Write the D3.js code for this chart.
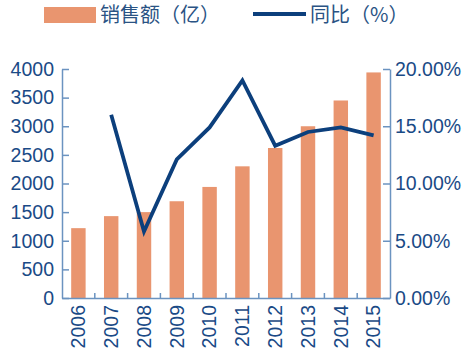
<!DOCTYPE html>
<html>
<head>
<meta charset="utf-8">
<script src="https://cdn.jsdelivr.net/npm/d3@7"></script>
<style>
    body { margin: 0; background: #fff; }
    text { font-family: "Liberation Sans", Arial, sans-serif; }
</style>
</head>
<body>
<div id="chart"></div>
<script>
const years = ['2006', '2007', '2008', '2009', '2010', '2011', '2012', '2013', '2014', '2015'];
const sales = [1220, 1430, 1500, 1690, 1940, 2300, 2620, 3000, 3450, 3940];
const growth = [null, 16.0, 5.8, 12.1, 14.9, 19.0, 13.3, 14.5, 14.9, 14.2];
const left_ticks = [0, 500, 1000, 1500, 2000, 2500, 3000, 3500, 4000];
const right_ticks = [0, 5, 10, 15, 20];

const width = 468;
const height = 358;
const margin = { left: 62, right: 78, top: 69, bottom: 60 };

const bar_color = '#e9956f';
const line_color = '#0c3f7c';
const axis_color = '#6b93c0';
const label_color = '#1a4a86';

const svg = d3.select('#chart')
    .append('svg')
    .attr('width', width)
    .attr('height', height);

const x = d3.scaleBand()
    .domain(years)
    .range([margin.left, width - margin.right])
    .paddingInner(0.56)
    .paddingOuter(0.28);

const y_left = d3.scaleLinear()
    .domain([0, 4000])
    .range([height - margin.bottom, margin.top]);

const y_right = d3.scaleLinear()
    .domain([0, 20])
    .range([height - margin.bottom, margin.top]);

// bars
svg.append('g')
    .selectAll('rect')
    .data(years)
    .enter()
    .append('rect')
    .attr('x', d => x(d))
    .attr('width', x.bandwidth())
    .attr('y', (d, i) => y_left(sales[i]))
    .attr('height', (d, i) => y_left(0) - y_left(sales[i]))
    .attr('fill', bar_color);

const style_axis = (g) => {
    g.select('.domain').attr('stroke', axis_color).attr('stroke-width', 1.5);
    g.selectAll('.tick line').attr('stroke', axis_color).attr('stroke-width', 1.5);
    g.selectAll('.tick text')
        .attr('fill', label_color)
        .style('font-size', '19.5px');
};

// left axis, ticks pointing inward
const left_axis = svg.append('g')
    .attr('transform', `translate(${margin.left}, 0)`)
    .call(d3.axisLeft(y_left).tickValues(left_ticks).tickSizeInner(-7).tickSizeOuter(0).tickPadding(8).tickFormat(d3.format('d')));
style_axis(left_axis);

// right axis
const right_axis = svg.append('g')
    .attr('transform', `translate(${width - margin.right}, 0)`)
    .call(d3.axisRight(y_right).tickValues(right_ticks).tickSizeInner(-7).tickSizeOuter(0).tickPadding(5).tickFormat(d => `${d.toFixed(2)}%`));
style_axis(right_axis);

// x axis with ticks at band boundaries
const x_axis = svg.append('g')
    .attr('transform', `translate(0, ${height - margin.bottom})`)
    .call(d3.axisBottom(x).tickSize(0).tickPadding(0));
x_axis.select('.domain').attr('stroke', axis_color).attr('stroke-width', 1.5);
x_axis.selectAll('.tick text')
    .attr('fill', label_color)
    .style('font-size', '19.5px')
    .attr('text-anchor', 'end')
    .attr('transform', 'rotate(-90)')
    .attr('x', -7)
    .attr('y', 0)
    .attr('dy', '0.35em');

const step = x.step();
x_axis.selectAll('.boundary')
    .data(years.slice(1))
    .enter()
    .append('line')
    .attr('class', 'boundary')
    .attr('x1', d => x(d) - step * x.paddingInner() / 2)
    .attr('x2', d => x(d) - step * x.paddingInner() / 2)
    .attr('y1', 0)
    .attr('y2', -5)
    .attr('stroke', axis_color)
    .attr('stroke-width', 1.5);

// growth line
const line = d3.line()
    .defined(d => d[1] !== null)
    .x(d => x(d[0]) + x.bandwidth() / 2)
    .y(d => y_right(d[1]));

svg.append('path')
    .datum(years.map((d, i) => [d, growth[i]]))
    .attr('fill', 'none')
    .attr('stroke', line_color)
    .attr('stroke-width', 3.8)
    .attr('stroke-linejoin', 'miter')
    .attr('d', line);

// legend
const legend = svg.append('g');
legend.append('rect')
    .attr('x', 44).attr('y', 7)
    .attr('width', 52).attr('height', 16)
    .attr('fill', bar_color);
legend.append('text')
    .attr('x', 100).attr('y', 22)
    .attr('fill', '#2a5384')
    .style('font-size', '20px')
    .style('font-family', '"Noto Sans CJK SC", sans-serif')
    .text('销售额（亿）');
legend.append('line')
    .attr('x1', 253).attr('x2', 306)
    .attr('y1', 14).attr('y2', 14)
    .attr('stroke', line_color)
    .attr('stroke-width', 4);
legend.append('text')
    .attr('x', 310).attr('y', 22)
    .attr('fill', '#2a5384')
    .style('font-size', '20px')
    .style('font-family', '"Noto Sans CJK SC", sans-serif')
    .text('同比（%）');
</script>
</body>
</html>
